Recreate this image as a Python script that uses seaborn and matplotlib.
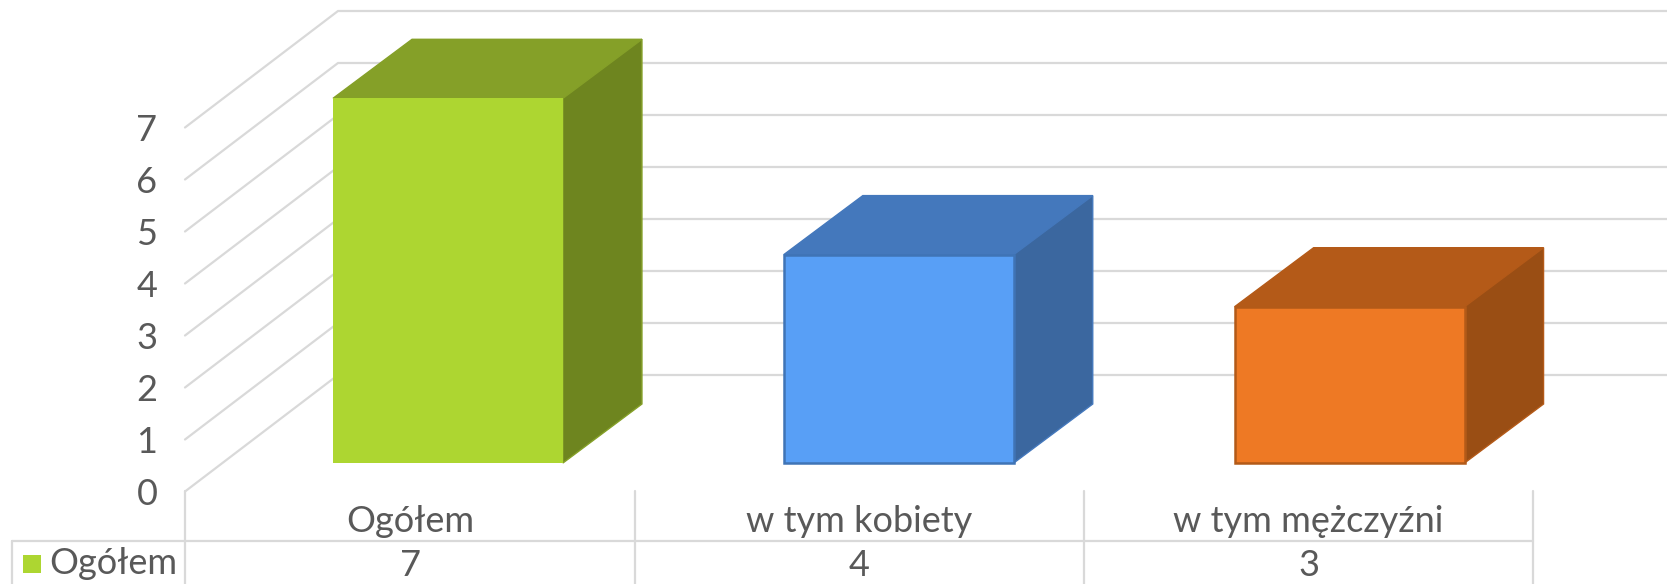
import matplotlib
matplotlib.use("Agg")
import matplotlib.pyplot as plt
from matplotlib.patches import Polygon, Rectangle
import pandas as pd
import seaborn as sns

# Data
categories = ["Ogółem", "w tym kobiety", "w tym mężczyźni"]
values = [7, 4, 3]
series_name = "Ogółem"
y_ticks = [0, 1, 2, 3, 4, 5, 6, 7]

# Colours
front_colors = ["#ADD631", "#589FF6", "#EE7924"]
edge_colors = ["#ADD631", "#3F74B6", "#B35A18"]
edge_widths = [0, 1.8, 1.8]
top_colors = ["#85A028", "#4478BC", "#B45A18"]
side_colors = ["#6E851F", "#3B679F", "#9A4E14"]
grid_color = "#D9D9D9"
text_color = "#595959"

W, H = 1667, 584
X0, X_UNIT = 448, 450.8   # pixel of first category, pixels per category
Y0, Y_UNIT = 463, 52.1    # pixel of value 0 on bars, pixels per value


def px(x):
    return (x - X0) / X_UNIT


def py(y):
    return (Y0 - y) / Y_UNIT


sns.set_theme(style="white")
plt.rcParams["font.family"] = ["Lato", "DejaVu Sans"]

df = pd.DataFrame({"kategoria": categories, "wartosc": values})

fig = plt.figure(figsize=(W / 100, H / 100), dpi=100)
ax = fig.add_axes([0, 0, 1, 1])

sns.barplot(data=df, x="kategoria", y="wartosc", hue="kategoria",
            palette=front_colors, width=0.51, saturation=1, legend=False,
            ax=ax, zorder=5)

ax.set_xlim(px(0), px(W))
ax.set_ylim(py(H), py(0))
ax.axis("off")

# back wall + side wall gridlines
depth_x = px(79) - px(0)
depth_y = py(0) - py(59)
for v in y_ticks:
    y_front = py(491.5) + v * 52 / Y_UNIT
    y_back = py(375) + v * 52 / Y_UNIT
    ax.plot([px(185), px(338), px(W)], [y_front, y_back, y_back],
            color=grid_color, lw=1.6, zorder=1, solid_joinstyle="miter")
    ax.text(px(147), y_front - 3 / Y_UNIT, str(v), ha="center", va="center",
            fontsize=26, color=text_color)

# 3D faces of the bars
for bar, edge, lw, top, side in zip(ax.patches, edge_colors, edge_widths, top_colors, side_colors):
    x1, x2 = bar.get_x(), bar.get_x() + bar.get_width()
    h = bar.get_height()
    bar.set_edgecolor(edge)
    bar.set_linewidth(lw)
    ax.add_patch(Polygon([(x1, h), (x2, h), (x2 + depth_x, h + depth_y), (x1 + depth_x, h + depth_y)],
                         closed=True, facecolor=top, edgecolor=top, lw=1, zorder=4))
    ax.add_patch(Polygon([(x2, 0), (x2 + depth_x, depth_y), (x2 + depth_x, h + depth_y), (x2, h)],
                         closed=True, facecolor=side, edgecolor=top, lw=1, zorder=4))

# data table under the chart
seps = [185, 635, 1084, 1533]
for s in seps:
    ax.plot([px(s), px(s)], [py(491), py(H)], color=grid_color, lw=1.6, zorder=1)
ax.plot([px(12), px(1533)], [py(541), py(541)], color=grid_color, lw=1.6, zorder=1)
ax.plot([px(12), px(12)], [py(541), py(H)], color=grid_color, lw=1.6, zorder=1)

for i, (cat, val) in enumerate(zip(categories, values)):
    cx = (px(seps[i]) + px(seps[i + 1])) / 2
    ax.text(cx, py(522), cat, ha="center", va="center", fontsize=26, color=text_color)
    ax.text(cx, py(565), str(val), ha="center", va="center", fontsize=26, color=text_color)

ax.add_patch(Rectangle((px(23), py(572.5)), px(41) - px(23), py(554.5) - py(572.5),
                       facecolor=front_colors[0], edgecolor="none", zorder=3))
ax.text(px(49), py(564), series_name, ha="left", va="center", fontsize=26, color=text_color)

fig.savefig("out.png", dpi=100, facecolor="white")
plt.close(fig)
